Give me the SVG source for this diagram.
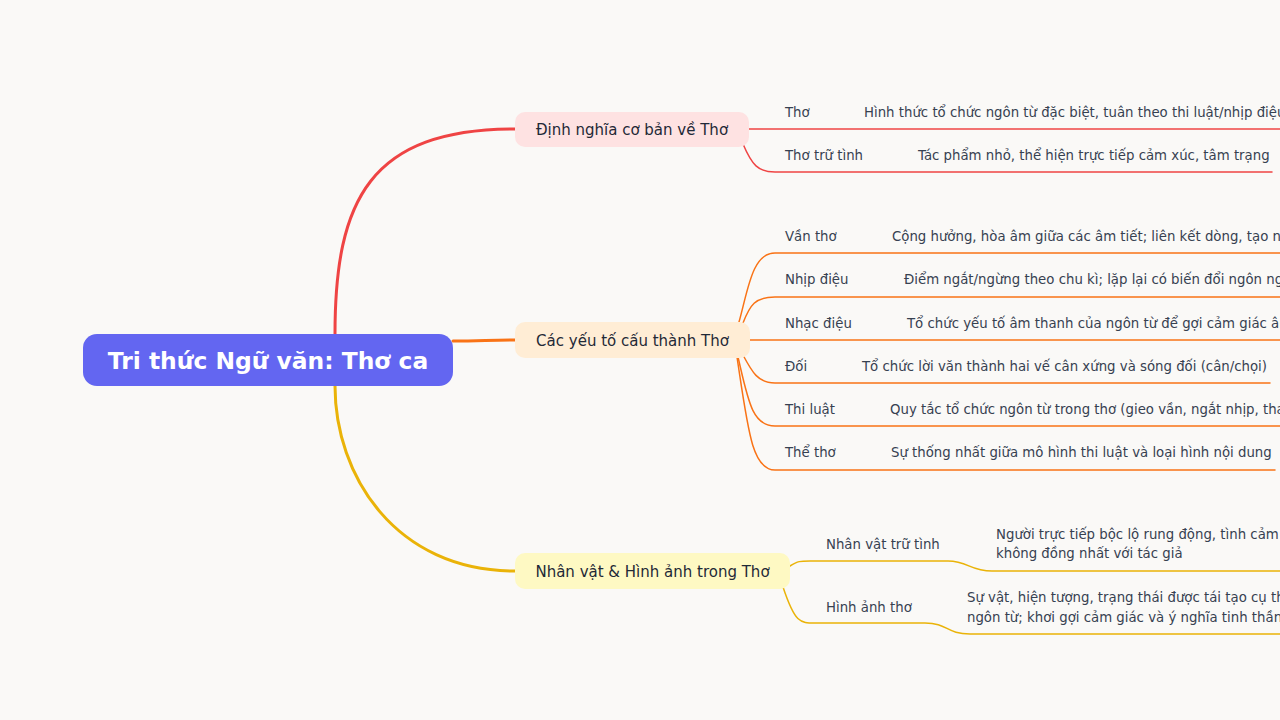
<svg xmlns="http://www.w3.org/2000/svg" width="1280" height="720" viewBox="0 0 1280 720">
<style>
.bg{fill:#faf9f7}
.main{fill:none;stroke-width:3;stroke-linecap:round}
.leaf{fill:none;stroke-width:1.5;stroke-linecap:round}
.red{stroke:#ef4444}
.org{stroke:#f97316}
.yel{stroke:#eab308}
.root-t{font-family:"DejaVu Sans","Noto Sans",sans-serif;font-size:23.4px;font-weight:bold;fill:#ffffff;text-anchor:middle}
.br-t{font-family:"DejaVu Sans","Noto Sans",sans-serif;font-size:15px;fill:#1f2937;text-anchor:middle}
.lf-t{font-family:"DejaVu Sans","Noto Sans",sans-serif;font-size:13.3px;fill:#374151}
</style>
<rect class="bg" x="0" y="0" width="1280" height="720"/>
<g id="connectors">
  <path class="main red" d="M335,334 C335,200 370,129 515,129"/>
  <path class="main org" d="M453,341 C480,341 490,340 515,340"/>
  <path class="main yel" d="M335,386 C335,475 395,571 515,571"/>
  <path class="leaf red" d="M749,129 L1282,129"/>
  <path class="leaf red" d="M743,144 C752,165 758,172 775,172 L1272,172"/>
  <path class="leaf org" d="M739,322 C748,290 752,253 775,253 L1282,253"/>
  <path class="leaf org" d="M743,323 C750,305 755,297 775,297 L1282,297"/>
  <path class="leaf org" d="M750,340 L1282,340"/>
  <path class="leaf org" d="M743,355 C752,372 758,383 775,383 L1270,383"/>
  <path class="leaf org" d="M738,357 C748,400 752,426 775,426 L1282,426"/>
  <path class="leaf org" d="M737,357 C748,430 752,470 775,470 L1275,470"/>
  <path class="leaf yel" d="M790,566 C798,561 800,561 810,561 L948,561 C968,561 970,571 992,571 L1282,571"/>
  <path class="leaf yel" d="M783,587 C795,623 800,623 815,623 L925,623 C948,623 946,634 970,634 L1282,634"/>
</g>
<g id="root">
  <rect x="83" y="334" width="370" height="52" rx="14" fill="#6366f1"/>
  <text class="root-t" x="268" y="368.5">Tri thức Ngữ văn: Thơ ca</text>
</g>
<g id="branch-dinh-nghia">
  <rect x="515" y="112" width="234" height="35" rx="10" fill="#fee2e2"/>
  <text class="br-t" x="632" y="135">Định nghĩa cơ bản về Thơ</text>
</g>
<g id="branch-yeu-to">
  <rect x="515" y="322" width="235" height="36" rx="10" fill="#ffedd5"/>
  <text class="br-t" x="632.5" y="345.5">Các yếu tố cấu thành Thơ</text>
</g>
<g id="branch-nhan-vat">
  <rect x="515" y="553" width="275" height="36" rx="10" fill="#fef9c3"/>
  <text class="br-t" x="652.5" y="576.5">Nhân vật &amp; Hình ảnh trong Thơ</text>
</g>
<g id="leaf-tho">
  <text class="lf-t" x="785" y="117">Thơ</text>
  <text class="lf-t" x="864" y="117">Hình thức tổ chức ngôn từ đặc biệt, tuân theo thi luật/nhịp điệu</text>
</g>
<g id="leaf-tho-tru-tinh">
  <text class="lf-t" x="785" y="160">Thơ trữ tình</text>
  <text class="lf-t" x="918" y="160">Tác phẩm nhỏ, thể hiện trực tiếp cảm xúc, tâm trạng</text>
</g>
<g id="leaf-van-tho">
  <text class="lf-t" x="785" y="241">Vần thơ</text>
  <text class="lf-t" x="892" y="241">Cộng hưởng, hòa âm giữa các âm tiết; liên kết dòng, tạo nhạc điệu</text>
</g>
<g id="leaf-nhip-dieu">
  <text class="lf-t" x="785" y="284">Nhịp điệu</text>
  <text class="lf-t" x="904" y="284">Điểm ngắt/ngừng theo chu kì; lặp lại có biến đổi ngôn ngữ</text>
</g>
<g id="leaf-nhac-dieu">
  <text class="lf-t" x="785" y="328">Nhạc điệu</text>
  <text class="lf-t" x="907" y="328">Tổ chức yếu tố âm thanh của ngôn từ để gợi cảm giác âm nhạc</text>
</g>
<g id="leaf-doi">
  <text class="lf-t" x="785" y="371">Đối</text>
  <text class="lf-t" x="862" y="371">Tổ chức lời văn thành hai vế cân xứng và sóng đối (cân/chọi)</text>
</g>
<g id="leaf-thi-luat">
  <text class="lf-t" x="785" y="414">Thi luật</text>
  <text class="lf-t" x="890" y="414">Quy tắc tổ chức ngôn từ trong thơ (gieo vần, ngắt nhịp, thanh điệu)</text>
</g>
<g id="leaf-the-tho">
  <text class="lf-t" x="785" y="457">Thể thơ</text>
  <text class="lf-t" x="891" y="457">Sự thống nhất giữa mô hình thi luật và loại hình nội dung</text>
</g>
<g id="leaf-nhan-vat-tru-tinh">
  <text class="lf-t" x="826" y="549">Nhân vật trữ tình</text>
  <text class="lf-t" x="996" y="539">Người trực tiếp bộc lộ rung động, tình cảm</text>
  <text class="lf-t" x="996" y="558">không đồng nhất với tác giả</text>
</g>
<g id="leaf-hinh-anh-tho">
  <text class="lf-t" x="826" y="612">Hình ảnh thơ</text>
  <text class="lf-t" x="967" y="602">Sự vật, hiện tượng, trạng thái được tái tạo cụ thể qua</text>
  <text class="lf-t" x="967" y="622">ngôn từ; khơi gợi cảm giác và ý nghĩa tinh thần</text>
</g>
</svg>
